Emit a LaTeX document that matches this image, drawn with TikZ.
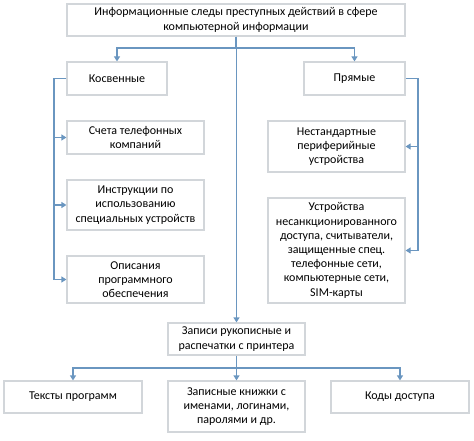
\documentclass[tikz,border=0pt]{standalone}
\usepackage{fontspec}
\setmainfont{Carlito}
\usetikzlibrary{arrows.meta}
\definecolor{linkblue}{HTML}{6A96C0}
\definecolor{boxgray}{HTML}{D2D6DA}
\tikzset{
	box/.style={draw=boxgray,line width=1.2pt,fill=white,align=center,inner sep=2pt,font=\fontsize{12}{14.2}\selectfont},
	link/.style={draw=linkblue,line width=1.2pt,-{Triangle[length=5pt,width=6pt]}},
}
\begin{document}
\begin{tikzpicture}[x=1pt,y=-1pt]
	\useasboundingbox (0,0) rectangle (474,441);
	% top level
	\node[box,minimum width=338pt,minimum height=32pt] (top) at (236,20) {Информационные следы преступных действий в сфере\\компьютерной информации};
	\node[box,minimum width=100pt,minimum height=33pt] (kos) at (117,78.5) {Косвенные};
	\node[box,minimum width=101pt,minimum height=33pt] (pry) at (354.5,78.5) {Прямые};
	% indirect
	\node[box,minimum width=137pt,minimum height=33pt] (sch) at (135.5,137.5) {Счета телефонных\\компаний};
	\node[box,minimum width=137pt,minimum height=50pt] (ins) at (135.5,205) {Инструкции по\\использованию\\специальных устройств};
	\node[box,minimum width=137pt,minimum height=47pt] (opi) at (135.5,279.5) {Описания\\программного\\обеспечения};
	% direct
	\node[box,minimum width=137pt,minimum height=51pt] (nes) at (336.5,146.5) {Нестандартные\\периферийные\\устройства};
	\node[box,minimum width=137pt,minimum height=105pt] (ust) at (336.5,250.5) {Устройства\\несанкционированного\\доступа, считыватели,\\защищенные спец.\\телефонные сети,\\компьютерные сети,\\SIM-карты};
	% records
	\node[box,minimum width=137pt,minimum height=32pt] (zap) at (236.5,339) {Записи рукописные и\\распечатки с принтера};
	\node[box,minimum width=138pt,minimum height=32pt] (tek) at (73,397) {Тексты программ};
	\node[box,minimum width=137pt,minimum height=51pt] (kni) at (236.5,406.5) {Записные книжки с\\именами, логинами,\\паролями и др.};
	\node[box,minimum width=138pt,minimum height=32pt] (kod) at (400,397) {Коды доступа};
	% connectors
	\coordinate (tb) at (236,48);
	\coordinate (lb) at (54,78.5);
	\coordinate (rb) at (418,78.5);
	\coordinate (bb) at (236.5,368);
	\draw[link] (top.south) -- (tb) -| (kos.north);
	\draw[link] (tb) -| (pry.north);
	\draw[link] (top.south -| zap.north) -- (zap.north);
	\draw[link] (kos.west) -- (lb) |- (opi.west);
	\draw[link] (lb) |- (sch.west);
	\draw[link] (lb) |- (ins.west);
	\draw[link] (pry.east) -- (rb) |- (ust.east);
	\draw[link] (rb) |- (nes.east);
	\draw[link] (zap.south) -- (kni.north);
	\draw[link] (bb) -| (tek.north);
	\draw[link] (bb) -| (kod.north);
\end{tikzpicture}
\end{document}
